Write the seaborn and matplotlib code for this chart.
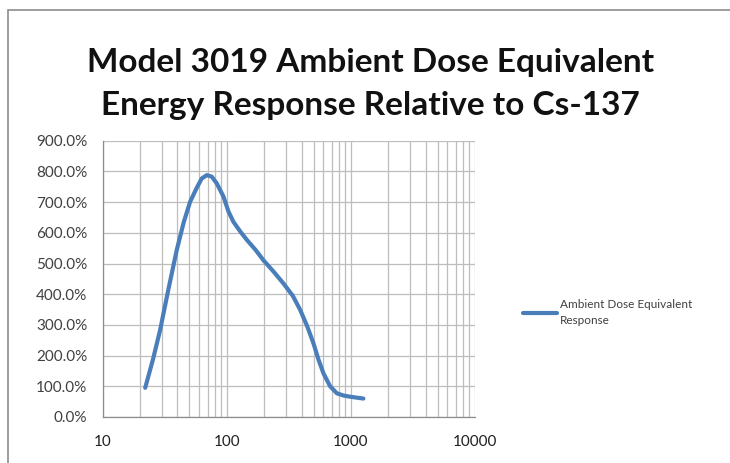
import numpy as np
import pandas as pd
import seaborn as sns
import matplotlib.pyplot as plt
from matplotlib.ticker import FuncFormatter, LogLocator, FixedLocator
from matplotlib.patches import Rectangle

# energy (keV) vs relative response (%)
energy = [22, 25.5, 29, 34, 39.5, 45, 50.6, 57, 62.8, 69, 75.7, 83, 94, 103, 113, 128, 145, 170, 197, 240,
          286, 340, 390, 445, 499, 550, 601, 680, 771, 870, 986, 1260]
response = [95, 190, 283, 420, 544, 635, 701, 745, 777, 788, 783, 761, 718, 670, 636, 605, 577, 545, 511, 472,
            435, 395, 349, 295, 240, 185, 142, 100, 77, 70, 66, 60]
y_ticks = list(range(0, 1000, 100))
x_ticks = [10, 100, 1000, 10000]
series_name = "Ambient Dose Equivalent\nResponse"

df = pd.DataFrame({"Energy": energy, "Response": response})

sns.set_style("white")
plt.rcParams['font.family'] = ['Lato', 'DejaVu Sans']

fig = plt.figure(figsize=(7.3, 4.63), dpi=100)
ax = fig.add_axes([0.1407, 0.0994, 0.51, 0.5966])

sns.lineplot(data=df, x="Energy", y="Response", ax=ax, color="#4a7ebb",
             linewidth=3, solid_capstyle="round", solid_joinstyle="round", label=series_name)

ax.set_xscale("log")
ax.set_xlim(10, 10000)
ax.set_ylim(0, 900)
ax.xaxis.set_major_locator(FixedLocator(x_ticks))
ax.xaxis.set_minor_locator(LogLocator(base=10, subs=np.arange(2, 10)))
ax.xaxis.set_minor_formatter(FuncFormatter(lambda v, p: ""))
ax.xaxis.set_major_formatter(FuncFormatter(lambda v, p: f"{int(v)}"))
ax.yaxis.set_major_locator(FixedLocator(y_ticks))
ax.yaxis.set_major_formatter(FuncFormatter(lambda v, p: f"{v:.1f}%"))

ax.grid(True, which="both", axis="x", color="#bdbdbd", linewidth=0.9)
ax.grid(True, which="major", axis="y", color="#bdbdbd", linewidth=0.9)
ax.set_axisbelow(True)

for s in ["top", "right"]:
    ax.spines[s].set_visible(False)
for s in ["left", "bottom"]:
    ax.spines[s].set_color("#8c8c8c")
    ax.spines[s].set_linewidth(0.9)

ax.tick_params(axis="both", which="both", direction="out", color="#8c8c8c", width=0.9)
ax.tick_params(axis="y", length=5, labelsize=11, labelcolor="#404040", pad=6)
ax.tick_params(axis="x", which="major", length=5, labelsize=11, labelcolor="#202020", pad=8)
ax.tick_params(axis="x", which="minor", length=5)
ax.set_xlabel("")
ax.set_ylabel("")

leg = ax.legend(loc="center left", bbox_to_anchor=(0.71, 0.325), bbox_transform=fig.transFigure,
                frameon=False, fontsize=8.5, handlelength=2.9, handletextpad=0.2, borderaxespad=0)
for t in leg.get_texts():
    t.set_color("#404040")
    t.set_linespacing(1.5)

fig.text(0.508, 0.865, "Model 3019 Ambient Dose Equivalent", ha="center", va="center",
         fontsize=24, fontweight="bold", color="#111111")
fig.text(0.508, 0.772, "Energy Response Relative to Cs-137", ha="center", va="center",
         fontsize=24, fontweight="bold", color="#111111")

fig.patches.append(Rectangle((8 / 730, -0.1), 1.2, 1.1 - 10 / 463, transform=fig.transFigure,
                             fill=False, edgecolor="#8c8c8c", linewidth=1.2, zorder=0))

fig.savefig("out.png", dpi=100)
